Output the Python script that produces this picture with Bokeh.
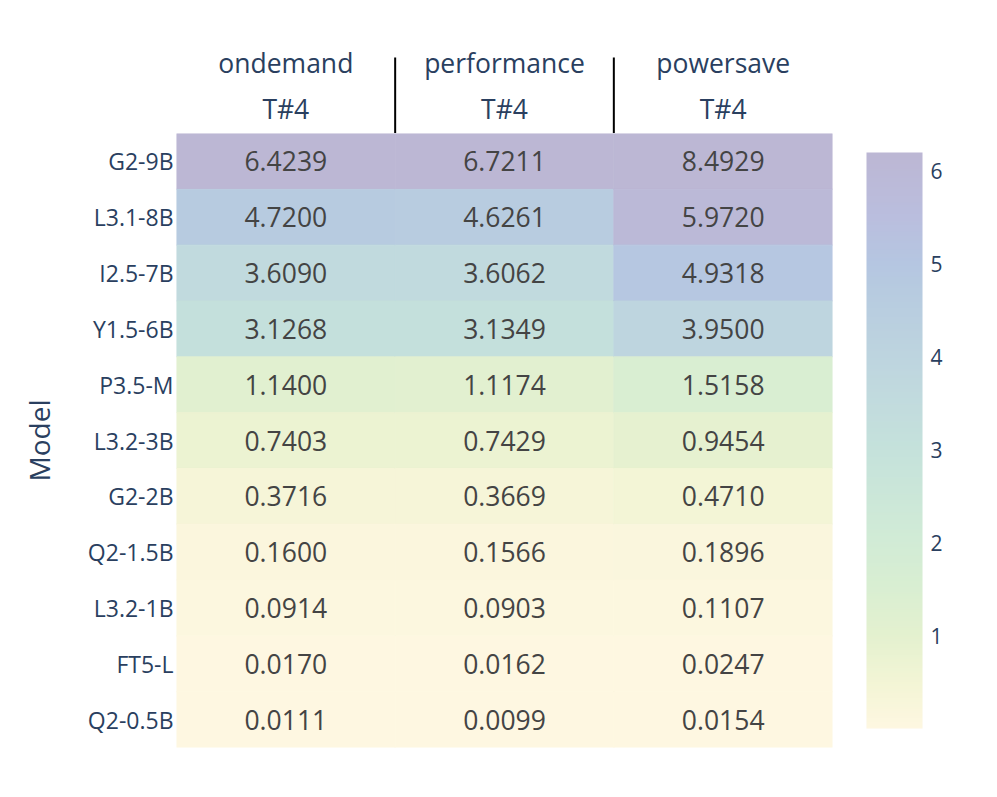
import numpy as np
from bokeh.plotting import figure
from bokeh.layouts import column
from bokeh.models import (ColumnDataSource, LinearColorMapper, ColorBar, FixedTicker,
                          FactorRange, Range1d)
from bokeh.core.properties import value
from bokeh.embed import file_html
from bokeh.resources import INLINE

# ---------------- data ----------------
models = ["G2-9B", "L3.1-8B", "I2.5-7B", "Y1.5-6B", "P3.5-M", "L3.2-3B",
          "G2-2B", "Q2-1.5B", "L3.2-1B", "FT5-L", "Q2-0.5B"]
governors = ["ondemand", "performance", "powersave"]
sub_label = "T#4"
ondemand = [6.4239, 4.7200, 3.6090, 3.1268, 1.1400, 0.7403, 0.3716, 0.1600, 0.0914, 0.0170, 0.0111]
performance = [6.7211, 4.6261, 3.6062, 3.1349, 1.1174, 0.7429, 0.3669, 0.1566, 0.0903, 0.0162, 0.0099]
powersave = [8.4929, 5.9720, 4.9318, 3.9500, 1.5158, 0.9454, 0.4710, 0.1896, 0.1107, 0.0247, 0.0154]
cbar_ticks = [1, 2, 3, 4, 5, 6]
color_max = 6.2

# ---------------- palette (style) ----------------
anchors = [
    (0.00, (254, 247, 225)),
    (0.07, (244, 245, 214)),
    (0.16, (228, 241, 207)),
    (0.25, (216, 238, 210)),
    (0.33, (209, 235, 214)),
    (0.48, (197, 226, 219)),
    (0.58, (193, 218, 222)),
    (0.65, (189, 212, 223)),
    (0.76, (183, 203, 224)),
    (0.81, (181, 198, 225)),
    (0.89, (186, 190, 222)),
    (1.00, (188, 183, 212)),
]
pos = np.array([a[0] for a in anchors])
cols = np.array([a[1] for a in anchors], dtype=float)
t = np.linspace(0, 1, 256)
palette = ["#%02x%02x%02x" % tuple(int(round(np.interp(tt, pos, cols[:, k]))) for k in range(3)) for tt in t]

all_vals = ondemand + performance + powersave
mapper = LinearColorMapper(palette=palette, low=min(all_vals), high=color_max)

# ---------------- long-form table ----------------
series = {"ondemand": ondemand, "performance": performance, "powersave": powersave}
xs, ys, vs, txt = [], [], [], []
for g in governors:
    for m, v in zip(models, series[g]):
        xs.append(g); ys.append(m); vs.append(v); txt.append("%.4f" % v)
src = ColumnDataSource(dict(x=xs, y=ys, v=vs, t=txt))

FONT = "Open Sans"
TXT = "#2a3f5f"

LEFT, RIGHT = 176, 149
frame_w, frame_h = 656, 614
head_h = 133

xr = FactorRange(*governors)

# ---------------- header figure ----------------
h = figure(x_range=xr, y_range=Range1d(0, head_h), frame_width=frame_w, frame_height=head_h,
           min_border_left=LEFT, min_border_right=RIGHT, min_border_top=0, min_border_bottom=0,
           output_backend="svg", toolbar_location=None,
           x_axis_location=None, y_axis_location=None)
h.outline_line_color = None
h.grid.grid_line_color = None
n_g = len(governors)
hsrc = ColumnDataSource(dict(x=governors, name=governors, s=[sub_label] * n_g,
                             ytop=[head_h - 62] * n_g, ysub=[head_h - 108] * n_g))
h.text(x="x", y="ytop", text="name", source=hsrc, text_font=value(FONT), text_font_size="26.5px",
       text_color=TXT, text_align="center", text_baseline="middle")
h.text(x="x", y="ysub", text="s", source=hsrc, text_font=value(FONT), text_font_size="26.5px",
       text_color=TXT, text_align="center", text_baseline="middle")
bounds = list(range(1, n_g))
h.segment(x0=bounds, x1=bounds, y0=[0] * len(bounds), y1=[head_h - 57] * len(bounds),
          line_color="black", line_width=2)

# ---------------- main heatmap ----------------
p = figure(x_range=xr, y_range=FactorRange(*models[::-1]),
           frame_width=frame_w, frame_height=frame_h,
           min_border_left=LEFT, min_border_top=0, min_border_right=RIGHT, min_border_bottom=34,
           output_backend="svg", toolbar_location=None, x_axis_location=None)
p.outline_line_color = None
p.grid.grid_line_color = None

cmap = {"field": "v", "transform": mapper}
p.rect(x="x", y="y", width=1, height=1, source=src,
       fill_color=cmap, line_color=cmap, line_width=0.8)
p.text(x="x", y="y", text="t", source=src, text_font=value(FONT), text_font_size="26.5px",
       text_color="#444444", text_align="center", text_baseline="middle")

ya = p.yaxis[0]
ya.axis_line_color = None
ya.major_tick_line_color = None
ya.minor_tick_line_color = None
ya.major_tick_out = 0
ya.major_tick_in = 0
ya.major_label_text_font = FONT
ya.major_label_text_font_size = "23px"
ya.major_label_text_color = TXT
ya.major_label_standoff = 3
ya.axis_label = "Model"
ya.axis_label_text_font = FONT
ya.axis_label_text_font_size = "28px"
ya.axis_label_text_font_style = "normal"
ya.axis_label_text_color = TXT
ya.axis_label_standoff = 27

cb = ColorBar(color_mapper=mapper, ticker=FixedTicker(ticks=cbar_ticks), width=56, height=576,
              location=(34, 19), padding=0, bar_line_color=None, major_tick_line_color=None,
              minor_tick_line_color=None, label_standoff=8, major_label_text_font=FONT,
              major_label_text_font_size="21px", major_label_text_color=TXT,
              background_fill_color=None, border_line_color=None)
p.add_layout(cb, "right")

layout = column(h, p, spacing=0)
open("out.html", "w").write(file_html(layout, INLINE))
